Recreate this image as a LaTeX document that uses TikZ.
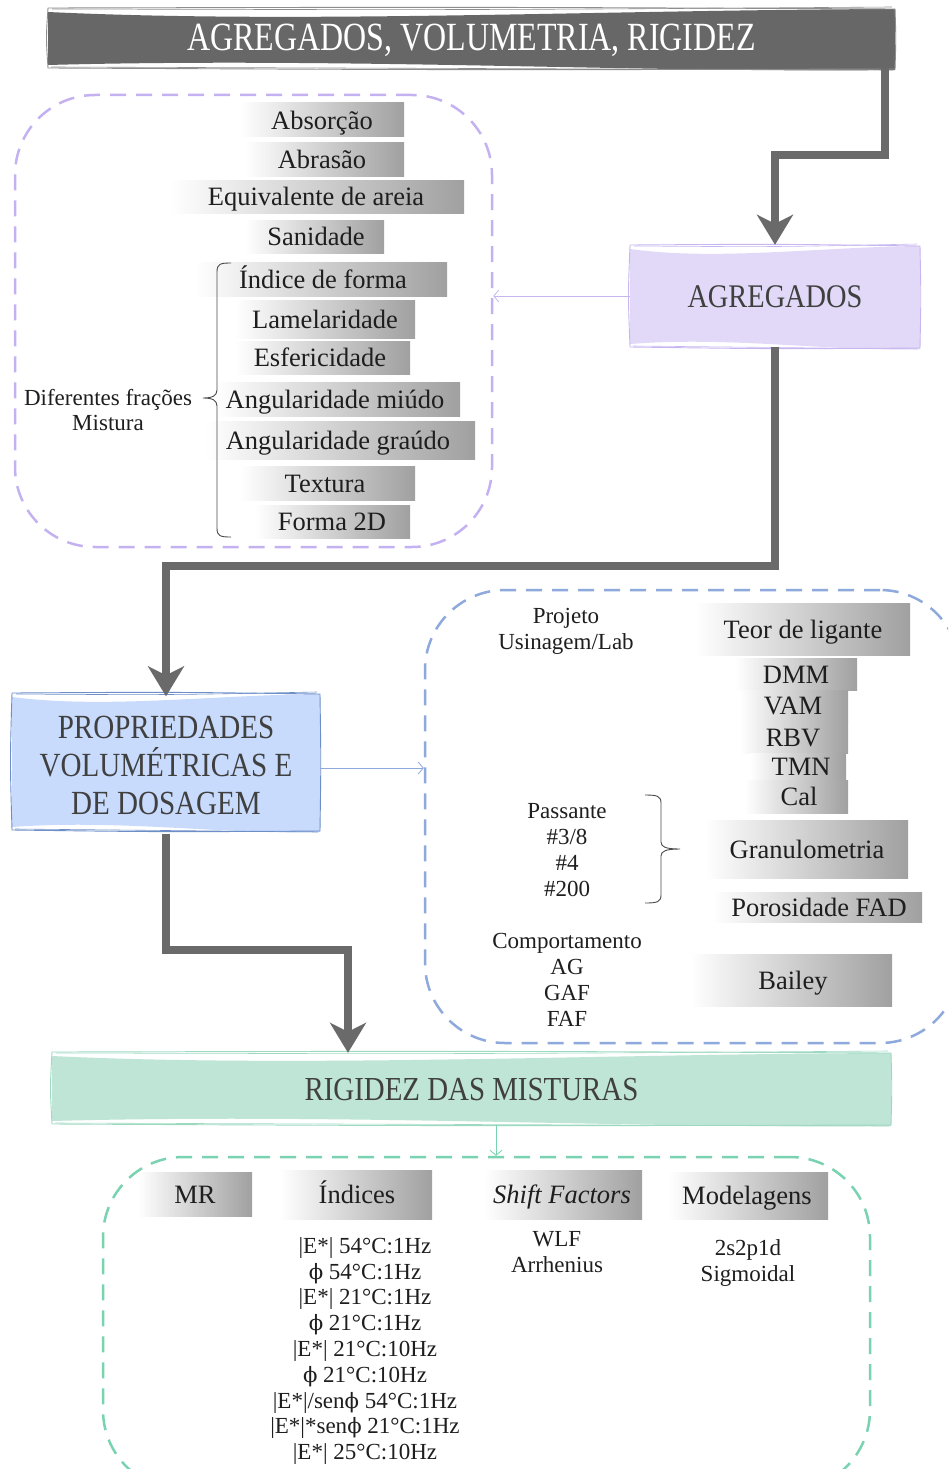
\documentclass[tikz,border=0pt]{standalone}
\usepackage{fontspec}
\setmainfont{Liberation Serif}
\newfontfamily\bannerfont[FakeStretch=0.8]{Liberation Serif}
\newfontfamily\headfont[FakeStretch=0.86]{Liberation Serif}
\newfontfamily\greekfont[Scale=0.92]{DejaVu Serif}
\newcommand\phiup{{\greekfont ϕ}}
\usetikzlibrary{arrows.meta,calc}

\definecolor{ink}{HTML}{1E1E1E}
\definecolor{headink}{HTML}{404040}
\definecolor{flowgray}{HTML}{6A6A6A}
\definecolor{bannerfill}{HTML}{676767}
\definecolor{bannerline}{HTML}{8E8E8E}
\definecolor{aggfill}{HTML}{E1D9F7}
\definecolor{aggline}{HTML}{C7B6F0}
\definecolor{propfill}{HTML}{C8DBFD}
\definecolor{propline}{HTML}{6E8EC8}
\definecolor{rigfill}{HTML}{BFE5D6}
\definecolor{rigline}{HTML}{9DD9C1}
\definecolor{purpdash}{HTML}{C4B1F1}
\definecolor{bluedash}{HTML}{8EA9DC}
\definecolor{greendash}{HTML}{79D2B0}
\definecolor{barend}{HTML}{A0A0A0}

\tikzset{
  gbar/.style={left color=white, right color=barend, draw=none, inner sep=0pt},
  bartext/.style={font=\fontsize{26.5}{30}\selectfont, text=ink, inner sep=0pt,
                  text height=22pt, text depth=4pt},
  smalltext/.style={font=\fontsize{23}{25.8}\selectfont, text=ink, align=center, inner sep=0pt},
  flow/.style={line width=8pt, draw=flowgray, -{Stealth[length=30pt,width=36pt,inset=9pt]}},
  link/.style={line width=0.8pt, -{Straight Barb[length=5pt,width=12pt]}},
  groupbox/.style={rounded corners=80pt, line width=2.5pt, dash pattern=on 16pt off 10pt, inner sep=0pt},
  headbox/.style={inner sep=0pt, text=headink, align=center},
  bracepath/.style={draw=ink!80, line width=0.9pt},
}

% shaded label bar: name, x1, y1, x2, y2, text x, text
\newcommand\gradbar[7]{%
  \node[gbar, minimum width={(#4-#2)*1pt}, minimum height={(#5-#3)*1pt}] (#1) at ({(#2+#4)/2},{(#3+#5)/2}) {};
  \node[bartext] (#1-t) at (#6,{(#3+#5)/2}) {#7};}

% wavy ribbon fill: colour, x1, y1, x2, y2
\newcommand\wavefill[5]{%
  \fill[#1] (#2,#3+4) .. controls ({#2+0.3*(#4-#2)},#3+16) and ({#2+0.65*(#4-#2)},#3+2) .. (#4,#3+1)
    -- (#4,#5+2) .. controls ({#2+0.7*(#4-#2)},#5+5) and ({#2+0.35*(#4-#2)},#5-11) .. (#2,#5-3) -- cycle;}

% hand-drawn frame: colour, x1, y1, x2, y2
\newcommand\sketchframe[5]{%
  \draw[#1, line width=0.9pt] (#2,#3) .. controls ({(#2+#4)/2},#3-1) .. (#4,#3+1)
     .. controls (#4+1,{(#3+#5)/2}) .. (#4,#5+1)
     .. controls ({(#2+#4)/2},#5+2) .. (#2,#5)
     .. controls (#2-2,{(#3+#5)/2}) .. (#2,#3);
  \draw[#1, line width=0.6pt] (#2+4,#3+1) .. controls ({(#2+#4)/2},#3+2) .. (#4-3,#3-1);
  \draw[#1, line width=0.6pt] (#2+3,#5-1) .. controls ({(#2+#4)/2},#5+1) .. (#4-2,#5+2);}

\begin{document}
\begin{tikzpicture}[x=1pt,y=-1pt]
\fill[white] (0,0) rectangle (948,1469);
\useasboundingbox (0,0) rectangle (948,1469);
\begin{scope}
\clip (0,0) rectangle (948,1469);

% ---- grouping frames ----
\node[groupbox, draw=purpdash, minimum width=477pt, minimum height=452pt] (grpA) at (253.5,321) {};
\node[groupbox, draw=bluedash, minimum width=535pt, minimum height=453pt] (grpB) at (692.5,816.5) {};
\node[groupbox, draw=greendash, minimum width=767pt, minimum height=333pt] (grpC) at (486.5,1323.5) {};

% ---- title banner ----
\wavefill{bannerfill}{48}{8}{895}{68}
\sketchframe{bannerline}{48}{8}{895}{68}
\node[headbox, minimum width=847pt, minimum height=60pt, text=white,
      font=\bannerfont\fontsize{40}{44}\selectfont, text height=26pt, text depth=0pt]
      (title) at (471.5,38) {AGREGADOS, VOLUMETRIA, RIGIDEZ};

% ---- main stages ----
\wavefill{aggfill}{630}{245}{920}{347}
\sketchframe{aggline}{630}{245}{920}{347}
\node[headbox, minimum width=290pt, minimum height=102pt,
      font=\headfont\fontsize{33}{38}\selectfont, text height=22pt, text depth=0pt]
      (agg) at (775,296) {AGREGADOS};

\wavefill{propfill}{12}{693}{320}{830}
\sketchframe{propline}{12}{693}{320}{830}
\node[headbox, minimum width=308pt, minimum height=137pt,
      font=\headfont\fontsize{33.8}{38}\selectfont]
      (prop) at (166,765) {PROPRIEDADES\\VOLUMÉTRICAS E\\DE DOSAGEM};

\wavefill{rigfill}{52}{1052}{891}{1124}
\sketchframe{rigline}{52}{1052}{891}{1124}
\node[headbox, minimum width=839pt, minimum height=72pt,
      font=\headfont\fontsize{33.6}{38}\selectfont, text height=22pt, text depth=0pt]
      (rig) at (471.5,1089) {RIGIDEZ DAS MISTURAS};

% ---- thin links into the frames ----
\draw[link, draw=aggline] (agg.west) -- (agg.west -| grpA.east);
\coordinate (pe) at ($(prop.east)+(0,3)$);
\draw[link, draw=bluedash] (pe) -- (pe -| grpB.west);
\coordinate (rs) at ($(rig.south)+(24.5,0)$);
\draw[link, draw=greendash] (rs) -- (rs |- grpC.north);

% ---- main flow ----
\coordinate (bendA) at (885,155);
\draw[flow] (title.south -| bendA) -- (bendA) -| (agg.north);
\coordinate (bendB) at (775,566);
\draw[flow] (agg.south) -- (bendB) -| (prop.north);
\coordinate (bendC) at (348,950);
\draw[flow] (prop.south) |- (bendC) -- (bendC |- rig.north);

% ---- aggregate properties ----
\gradbar{abs}{240}{103}{404}{137}{322}{Absorção}
\gradbar{abr}{245}{142}{404}{176}{322}{Abrasão}
\gradbar{eqa}{170}{180}{464}{213}{316}{Equivalente de areia}
\gradbar{san}{245}{220}{384}{253}{316}{Sanidade}
\gradbar{ifo}{195}{262}{447}{296}{323}{Índice de forma}
\gradbar{lam}{235}{300}{415}{338}{325}{Lamelaridade}
\gradbar{esf}{235}{341}{410}{374}{320}{Esfericidade}
\gradbar{angm}{215}{382}{460}{416}{335}{Angularidade miúdo}
\gradbar{angg}{205}{421}{475}{459}{338}{Angularidade graúdo}
\gradbar{tex}{240}{466}{415}{500}{325}{Textura}
\gradbar{f2d}{255}{505}{410}{538}{332}{Forma 2D}

\draw[bracepath] (231,263) .. controls (220,263) and (217,264) .. (217,272) -- (217,390)
  .. controls (217,396) and (212,398) .. (203,398) .. controls (212,398) and (217,400) .. (217,406)
  -- (217,528) .. controls (217,536) and (220,537) .. (231,537);
\node[smalltext] (frac) at (108,410) {Diferentes frações\\Mistura};

% ---- volumetric properties ----
\node[smalltext] (proj) at (566,631) {Projeto\\Usinagem/Lab};
\gradbar{teor}{695}{603}{910}{655}{803}{Teor de ligante}
\gradbar{dmm}{735}{658}{857}{690}{796}{DMM}
\gradbar{vam}{740}{690}{848}{721}{793}{VAM}
\gradbar{rbv}{740}{721}{848}{753}{793}{RBV}
\gradbar{tmn}{750}{753}{846}{780}{801}{TMN}
\gradbar{cal}{745}{780}{848}{813}{799}{Cal}
\gradbar{gran}{705}{820}{908}{878}{807}{Granulometria}
\gradbar{por}{712}{892}{922}{922}{819}{Porosidade FAD}
\gradbar{bai}{690}{954}{892}{1006}{793}{Bailey}

\node[smalltext] (pass) at (567,850) {Passante\\\#3/8\\\#4\\\#200};
\draw[bracepath] (645,795) .. controls (657,795) and (661,796) .. (661,803) -- (661,842)
  .. controls (661,847) and (666,849) .. (680,849) .. controls (666,849) and (661,851) .. (661,856)
  -- (661,895) .. controls (661,902) and (657,903) .. (645,903);
\node[smalltext] (comp) at (567,980) {Comportamento\\AG\\GAF\\FAF};

% ---- stiffness ----
\gradbar{mr}{138}{1172}{252}{1216}{195}{MR}
\gradbar{idx}{280}{1170}{432}{1219}{357}{Índices}
\gradbar{sf}{484}{1170}{642}{1219}{562}{\textit{Shift Factors}}
\gradbar{mdl}{668}{1172}{828}{1219}{747}{Modelagens}

\node[smalltext] (idxlist) at (365,1351) {|E*| 54°C:1Hz\\\phiup\ 54°C:1Hz\\|E*| 21°C:1Hz\\\phiup\ 21°C:1Hz\\|E*| 21°C:10Hz\\\phiup\ 21°C:10Hz\\|E*|/sen\phiup\ 54°C:1Hz\\|E*|*sen\phiup\ 21°C:1Hz\\|E*| 25°C:10Hz};
\node[smalltext] (sflist) at (557,1252) {WLF\\Arrhenius};
\node[smalltext] (mdllist) at (748,1263) {2s2p1d\\Sigmoidal};
\end{scope}
\end{tikzpicture}
\end{document}
